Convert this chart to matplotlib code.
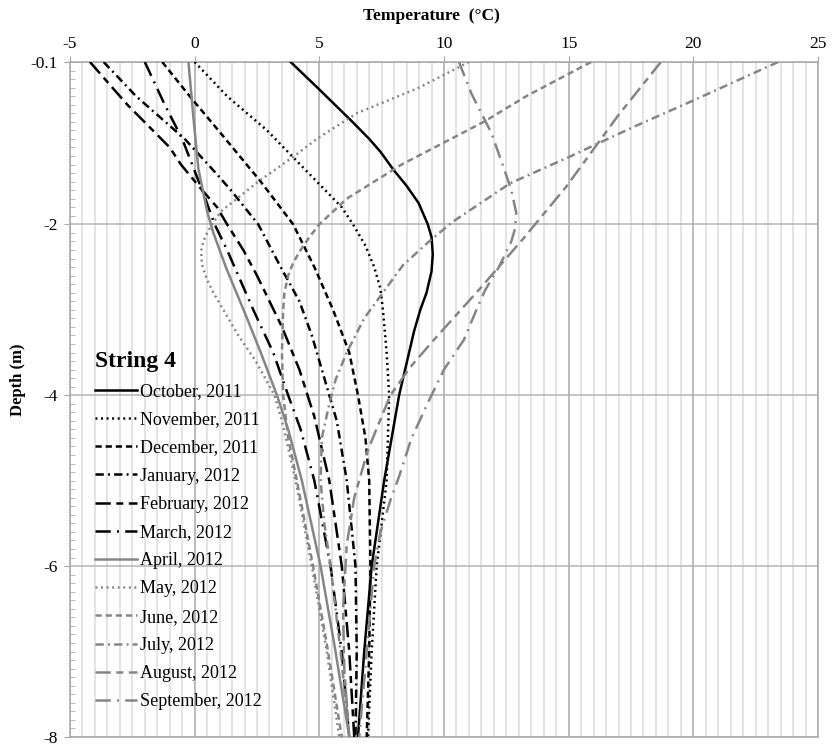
import matplotlib
matplotlib.use('Agg')
import matplotlib.pyplot as plt
from matplotlib.ticker import MultipleLocator, FixedLocator
import numpy as np

plt.rcParams['font.family'] = ['Liberation Serif', 'DejaVu Serif']
plt.rcParams['lines.scale_dashes'] = False
plt.rcParams['axes.unicode_minus'] = False

# ---------------- data (depth in m, temperature in degC) ----------------
labels = ['October, 2011', 'November, 2011', 'December, 2011', 'January, 2012',
          'February, 2012', 'March, 2012', 'April, 2012', 'May, 2012',
          'June, 2012', 'July, 2012', 'August, 2012', 'September, 2012']

oct_d = [-0.1, -0.43, -0.81, -1.0, -1.15, -1.36, -1.55, -1.75, -2.0, -2.15, -2.35, -2.55, -2.8, -3.0, -3.25, -3.5, -3.75, -4.0, -4.5, -5.0, -6.0, -7.0, -8.0]
oct_t = [3.85, 5.03, 6.36, 7.0, 7.45, 7.97, 8.5, 8.98, 9.35, 9.5, 9.55, 9.5, 9.3, 9.05, 8.8, 8.6, 8.4, 8.2, 7.9, 7.6, 7.1, 6.8, 6.55]

nov_d = [-0.1, -0.5, -0.9, -1.2, -1.5, -1.8, -2.0, -2.25, -2.5, -2.75, -3.0, -3.5, -4.0, -5.0, -6.0, -7.0, -8.0]
nov_t = [0.0, 1.3, 2.9, 3.9, 4.9, 5.9, 6.35, 6.85, 7.2, 7.45, 7.55, 7.7, 7.8, 7.7, 7.3, 7.1, 6.95]

dec_d = [-0.1, -0.5, -0.9, -1.2, -1.5, -2.0, -2.5, -3.0, -3.5, -4.0, -4.5, -5.0, -6.0, -7.0, -8.0]
dec_t = [-1.3, -0.2, 0.95, 1.8, 2.65, 3.95, 4.8, 5.55, 6.2, 6.55, 6.85, 7.0, 7.05, 7.0, 6.9]

jan_d = [-0.1, -0.5, -1.0, -1.4, -1.6, -2.0, -2.5, -2.9, -3.3, -3.7, -4.3, -5.0, -6.0, -7.0, -8.0]
jan_t = [-3.65, -2.35, -0.4, 0.85, 1.45, 2.55, 3.45, 4.2, 4.7, 5.1, 5.7, 6.1, 6.45, 6.5, 6.45]

feb_d = [-0.1, -0.6, -1.1, -1.3, -1.6, -1.8, -2.0, -2.3, -2.6, -3.2, -3.7, -4.25, -5.0, -6.0, -7.0, -8.0]
feb_t = [-4.2, -2.7, -1.0, -0.55, 0.3, 0.9, 1.3, 1.95, 2.5, 3.5, 4.2, 4.8, 5.4, 5.9, 6.2, 6.4]

mar_d = [-0.1, -0.35, -0.6, -1.0, -1.3, -1.6, -2.0, -2.3, -2.6, -3.0, -3.5, -4.0, -4.4, -5.0, -6.0, -7.0, -8.0]
mar_t = [-2.0, -1.6, -1.2, -0.5, -0.1, 0.3, 0.8, 1.3, 1.75, 2.35, 3.15, 3.75, 4.25, 4.8, 5.45, 5.9, 6.2]

apr_d = [-0.1, -0.75, -1.35, -1.85, -2.1, -2.3, -2.5, -3.1, -3.5, -4.0, -4.4, -5.0, -6.0, -7.0, -8.0]
apr_t = [-0.25, -0.05, 0.15, 0.5, 0.75, 1.0, 1.25, 2.1, 2.65, 3.3, 3.75, 4.3, 5.05, 5.65, 6.2]

may_d = [-0.1, -0.4, -0.7, -1.0, -1.2, -1.5, -1.85, -2.0, -2.1, -2.2, -2.3, -2.4, -2.5, -2.65, -2.8, -3.0, -3.3, -3.6, -4.0, -4.3, -5.0, -6.0, -7.0, -8.0]
may_t = [11.0, 9.0, 6.5, 4.9, 4.0, 2.55, 1.05, 0.7, 0.5, 0.35, 0.27, 0.27, 0.32, 0.5, 0.75, 1.15, 1.75, 2.45, 3.2, 3.5, 4.05, 4.7, 5.3, 5.8]

jun_d = [-0.1, -0.5, -0.8, -1.3, -1.7, -2.0, -2.15, -2.3, -2.45, -2.6, -2.8, -3.0, -3.5, -4.0, -4.5, -5.0, -6.0, -7.0, -8.0]
jun_t = [15.9, 13.3, 11.6, 8.3, 6.1, 5.0, 4.6, 4.25, 3.95, 3.75, 3.6, 3.55, 3.5, 3.55, 3.75, 4.1, 4.75, 5.35, 5.9]

jul_d = [-0.1, -0.55, -0.86, -1.2, -1.52, -1.97, -2.2, -2.48, -3.1, -3.5, -3.82, -4.1, -4.5, -5.0, -5.5, -6.0, -7.0, -8.0]
jul_t = [23.4, 20.0, 17.6, 15.1, 12.65, 10.35, 9.4, 8.35, 6.8, 6.1, 5.65, 5.4, 5.1, 5.05, 5.2, 5.45, 5.85, 6.2]

aug_d = [-0.1, -0.72, -1.2, -1.56, -2.16, -2.75, -3.35, -3.67, -4.0, -4.64, -5.2, -5.75, -6.5, -7.2, -8.0]
aug_t = [18.7, 17.0, 15.8, 14.9, 13.2, 11.45, 9.6, 8.65, 7.85, 6.95, 6.4, 6.1, 5.95, 6.0, 6.2]

sep_d = [-0.1, -0.47, -0.93, -1.3, -1.6, -1.87, -2.05, -2.2, -2.35, -2.5, -2.77, -3.0, -3.35, -3.7, -4.06, -4.5, -4.95, -5.23, -5.6, -6.0, -7.0, -8.0]
sep_t = [10.6, 11.1, 11.9, 12.35, 12.7, 12.9, 12.85, 12.7, 12.45, 12.2, 11.65, 11.3, 10.8, 10.0, 9.4, 8.7, 8.2, 7.85, 7.45, 7.2, 6.9, 6.6]

x_ticks = [-5, 0, 5, 10, 15, 20, 25]
y_ticks = [-0.1, -2, -4, -6, -8]
y_ticklabels = ['-0.1', '-2', '-4', '-6', '-8']

# ---------------- styles ----------------
K = '#000000'
G = '#858585'
solid = '-'
dotted = (0, (1.4, 2.6))
dashed = (0, (4.5, 2.8))
dashdot = (0, (6.0, 3.0, 1.4, 3.0))
longshort = (0, (11.0, 4.0, 5.0, 4.0))
longdot = (0, (11.0, 4.5, 1.4, 4.5))

series = [
    (oct_t, oct_d, K, solid), (nov_t, nov_d, K, dotted), (dec_t, dec_d, K, dashed),
    (jan_t, jan_d, K, dashdot), (feb_t, feb_d, K, longshort), (mar_t, mar_d, K, longdot),
    (apr_t, apr_d, G, solid), (may_t, may_d, G, dotted), (jun_t, jun_d, G, dashed),
    (jul_t, jul_d, G, dashdot), (aug_t, aug_d, G, longshort), (sep_t, sep_d, G, longdot),
]

W, H = 832, 748
fig = plt.figure(figsize=(W / 100, H / 100), dpi=100)
ax = fig.add_axes([70 / W, 1 - 737 / H, (818 - 70) / W, (737 - 62) / H])

handles = []
for (t, d, c, ls), lab in zip(series, labels):
    ln, = ax.plot(t, d, color=c, linestyle=ls, lw=1.8, label=lab, zorder=3)
    handles.append(ln)

ax.set_xlim(-5, 25)
ax.set_ylim(-8, -0.1)
ax.xaxis.tick_top()
ax.xaxis.set_label_position('top')
ax.xaxis.set_major_locator(FixedLocator(x_ticks))
ax.xaxis.set_minor_locator(MultipleLocator(0.5))
ax.yaxis.set_major_locator(FixedLocator(y_ticks))
ax.set_yticklabels(y_ticklabels)
ax.yaxis.set_minor_locator(FixedLocator(np.round(np.arange(-8.0, -0.05, 0.1), 2)))

ax.set_axisbelow(True)
ax.grid(which='minor', axis='x', color='#dcdcdc', lw=1.1)
ax.grid(which='major', axis='x', color='#a8a8a8', lw=1.1)
ax.grid(which='major', axis='y', color='#b4b4b4', lw=1.1)

for sp in ax.spines.values():
    sp.set_color('#a8a8a8')
    sp.set_linewidth(1.1)

ax.tick_params(axis='x', which='major', direction='out', length=4, color='#a8a8a8',
               labelsize=12.5, pad=3)
ax.tick_params(axis='x', which='minor', length=0)
ax.tick_params(axis='y', which='major', direction='out', length=4, color='#a8a8a8',
               labelsize=12.5, pad=5)
ax.tick_params(axis='y', which='minor', direction='in', length=3.5, color='#a8a8a8')

fig.text(431 / W, 1 - 16 / H, 'Temperature  (°C)', ha='center', va='center',
         fontsize=12.5, fontweight='bold')
fig.text(18 / W, 1 - 380 / H, 'Depth (m)', ha='center', va='center', rotation=90,
         fontsize=12, fontweight='bold')

leg = ax.legend(handles, labels, title='String 4', loc='upper left',
                bbox_to_anchor=(95 / W, 1 - 351 / H), bbox_transform=fig.transFigure,
                frameon=False, handlelength=2.35, handletextpad=0.12, labelspacing=0.62,
                borderpad=0, borderaxespad=0, alignment='left',
                prop={'size': 13}, title_fontproperties={'size': 17, 'weight': 'bold'})
leg._legend_box.sep = 8

fig.savefig('out.png', dpi=100)
